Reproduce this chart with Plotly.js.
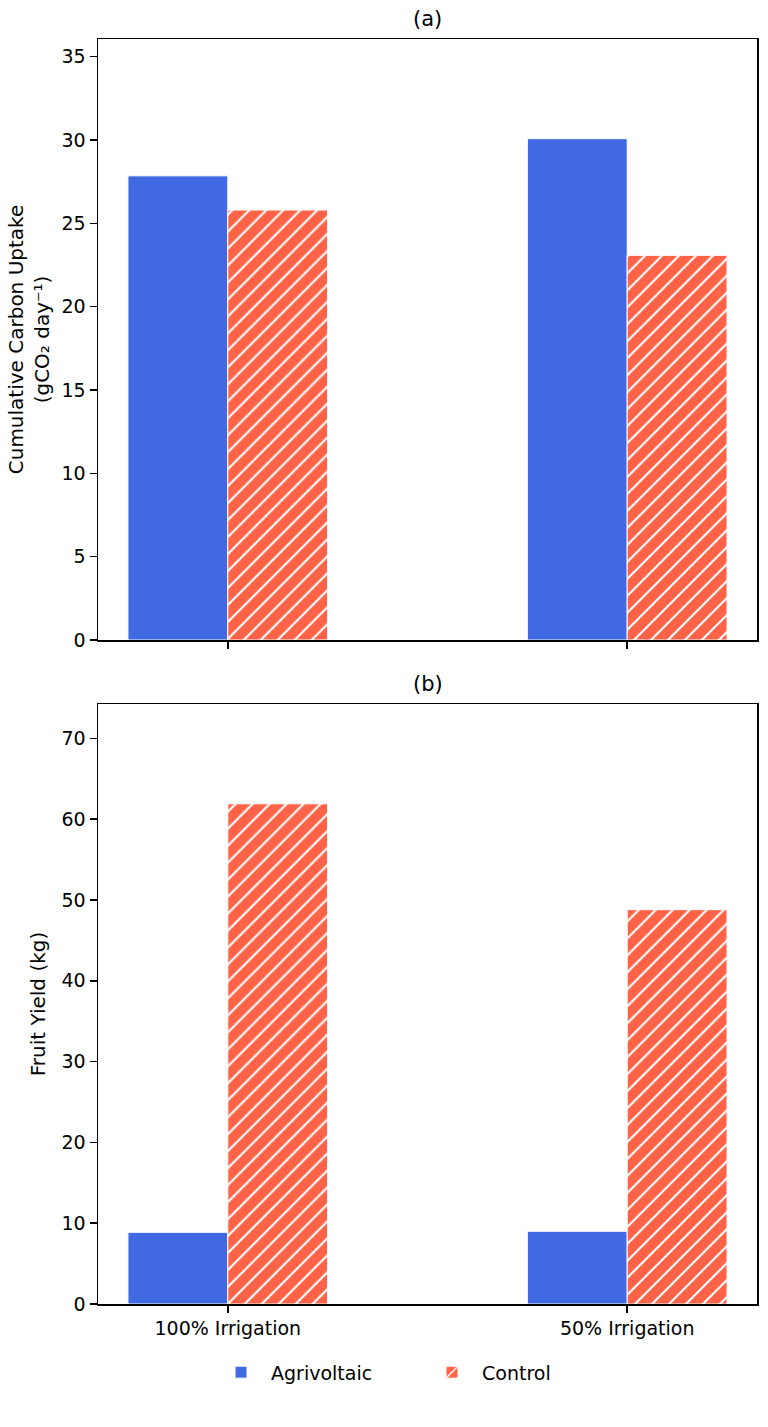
<!DOCTYPE html>
<html>
<head>
<meta charset="utf-8">
<script src="https://cdn.plot.ly/plotly-3.0.1.min.js"></script>
<style>
  html, body { margin: 0; padding: 0; background: #fff; }
  #chart { width: 768px; height: 1427px; }
</style>
</head>
<body>
<div id="chart"></div>
<script>
// ── Data ──────────────────────────────────────────────────────────────────
const categories   = ['100% Irrigation', '50% Irrigation'];
const seriesNames  = ['Agrivoltaic', 'Control'];
const carbonAgri   = [27.85, 30.08];
const carbonCtrl   = [25.8, 23.08];
const yieldAgri    = [8.87, 9.0];
const yieldCtrl    = [61.9, 48.8];
const carbonTicks  = [0, 5, 10, 15, 20, 25, 30, 35];
const yieldTicks   = [0, 10, 20, 30, 40, 50, 60, 70];

// ── Styling ───────────────────────────────────────────────────────────────
const BLUE   = '#4169E1';
const TOMATO = '#FF6347';
const FONT   = 'DejaVu Sans, sans-serif';
const xpos   = categories.map((_, i) => i);
const BAR_W  = 0.25;

function barTrace(y, name, color, hatched, xa, ya, showlegend) {
  const marker = {color: color, line: {color: '#ffffff', width: 1}};
  if (hatched) {
    marker.pattern = {shape: '/', fgcolor: '#ffffff', bgcolor: color,
                      size: 12, solidity: 0.18, fillmode: 'replace'};
  }
  return {
    type: 'bar', x: xpos, y: y, name: name,
    width: BAR_W, offset: hatched ? 0 : -BAR_W,
    marker: marker, xaxis: xa, yaxis: ya,
    showlegend: showlegend, legendgroup: name, hoverinfo: 'y',
  };
}

const traces = [
  barTrace(carbonAgri, seriesNames[0], BLUE,   false, 'x',  'y',  true),
  barTrace(carbonCtrl, seriesNames[1], TOMATO, true,  'x',  'y',  true),
  barTrace(yieldAgri,  seriesNames[0], BLUE,   false, 'x2', 'y2', false),
  barTrace(yieldCtrl,  seriesNames[1], TOMATO, true,  'x2', 'y2', false),
];

const axisCommon = {
  showline: true, mirror: true, linecolor: '#000', linewidth: 1.5,
  ticks: 'outside', ticklen: 7, tickwidth: 1.5, tickcolor: '#000',
  showgrid: false, zeroline: false,
  tickfont: {family: FONT, size: 19, color: '#000'},
};

const layout = {
  width: 768, height: 1427,
  margin: {l: 98, r: 11, t: 39, b: 123},
  paper_bgcolor: '#fff', plot_bgcolor: '#fff',
  font: {family: FONT, color: '#000'},
  bargap: 0,
  xaxis: Object.assign({}, axisCommon, {
    domain: [0, 1], anchor: 'y', range: [-0.325, 1.325],
    tickvals: xpos, ticktext: ['', ''],
  }),
  yaxis: Object.assign({}, axisCommon, {
    domain: [0.5249, 1], anchor: 'x', range: [0, 36.06],
    tickvals: carbonTicks,
    title: {text: 'Cumulative Carbon Uptake<br>(gCO₂ day⁻¹)', standoff: 6,
            font: {family: FONT, size: 20, color: '#000'}},
  }),
  xaxis2: Object.assign({}, axisCommon, {
    domain: [0, 1], anchor: 'y2', range: [-0.325, 1.325],
    tickvals: xpos, ticktext: categories,
  }),
  yaxis2: Object.assign({}, axisCommon, {
    domain: [0, 0.4743], anchor: 'x2', range: [0, 74.25],
    tickvals: yieldTicks,
    title: {text: 'Fruit Yield (kg)', standoff: 10,
            font: {family: FONT, size: 20, color: '#000'}},
  }),
  annotations: [
    {text: '(a)', xref: 'paper', yref: 'paper', x: 0.5, y: 1, yshift: 6,
     xanchor: 'center', yanchor: 'bottom', showarrow: false,
     font: {family: FONT, size: 21, color: '#000'}},
    {text: '(b)', xref: 'paper', yref: 'paper', x: 0.5, y: 0.4743, yshift: 6,
     xanchor: 'center', yanchor: 'bottom', showarrow: false,
     font: {family: FONT, size: 21, color: '#000'}},
  ],
  legend: {
    orientation: 'h', x: 0.1715, xanchor: 'left',
    y: -0.054, yanchor: 'middle',
    font: {family: FONT, size: 19, color: '#000'},
    itemwidth: 50, entrywidth: 146, entrywidthmode: 'pixels',
    traceorder: 'normal',
  },
};

Plotly.newPlot('chart', traces, layout, {displayModeBar: false, staticPlot: true});
</script>
</body>
</html>
